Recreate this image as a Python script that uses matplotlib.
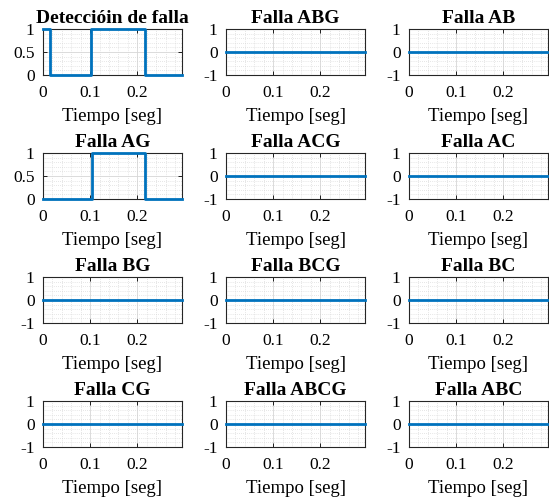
import matplotlib
matplotlib.use("Agg")
import matplotlib.pyplot as plt
from matplotlib.ticker import AutoMinorLocator

plt.rcParams["font.family"] = ["Liberation Serif", "DejaVu Serif"]

# Titles of the 12 subplots (row by row)
titles = [
    "Detecci\u00f3in de falla", "Falla ABG", "Falla AB",
    "Falla AG", "Falla ACG", "Falla AC",
    "Falla BG", "Falla BCG", "Falla BC",
    "Falla CG", "Falla ABCG", "Falla ABC",
]

t_end = 0.295

# Step signals (time of change, value after it)
t_det = [0.0, 0.015, 0.102, 0.216, t_end]
y_det = [1, 0, 1, 0, 0]

t_ag = [0.0, 0.103, 0.216, t_end]
y_ag = [0, 1, 0, 0]

# All other faults stay at zero
t_zero = [0.0, t_end]
y_zero = [0, 0]

signals = {
    0: (t_det, y_det),
    3: (t_ag, y_ag),
}

W, H = 549, 499
fig = plt.figure(figsize=(W / 100, H / 100), dpi=100)

lefts = [43, 226, 409]
tops = [29, 153, 277, 401]
aw, ah = 139, 46
blue = "#0072BD"

for i, title in enumerate(titles):
    r, c = divmod(i, 3)
    ax = fig.add_axes([lefts[c] / W, 1 - (tops[r] + ah) / H, aw / W, ah / H])
    t, y = signals.get(i, (t_zero, y_zero))
    ax.step(t, y, where="post", color=blue, lw=2, clip_on=False, zorder=3)

    ax.set_xlim(0, t_end)
    ax.set_xticks([0, 0.1, 0.2])
    ax.set_xticklabels(["0", "0.1", "0.2"])
    if i in signals:
        ax.set_ylim(0, 1)
        ax.set_yticks([0, 0.5, 1])
        ax.set_yticklabels(["0", "0.5", "1"])
    else:
        ax.set_ylim(-1, 1)
        ax.set_yticks([-1, 0, 1])
        ax.set_yticklabels(["-1", "0", "1"])

    ax.xaxis.set_minor_locator(AutoMinorLocator(5))
    ax.yaxis.set_minor_locator(AutoMinorLocator(5))
    ax.grid(True, which="major", color="#d6d6d6", lw=0.6)
    ax.grid(True, which="minor", color="#cfcfcf", lw=0.5, linestyle=(0, (1, 2)))
    ax.set_axisbelow(True)

    ax.tick_params(which="major", direction="in", length=3, width=0.6,
                   top=True, right=True, labelsize=12.5)
    ax.tick_params(axis="x", which="major", pad=7)
    ax.tick_params(axis="y", which="major", pad=6)
    ax.tick_params(which="minor", length=0)
    for s in ax.spines.values():
        s.set_linewidth(0.8)
        s.set_color("#262626")

    ax.set_title(title, fontsize=14, fontweight="bold", pad=4)
    ax.set_xlabel("Tiempo [seg]", fontsize=13.5, labelpad=5)

fig.savefig("out.png", dpi=100)
